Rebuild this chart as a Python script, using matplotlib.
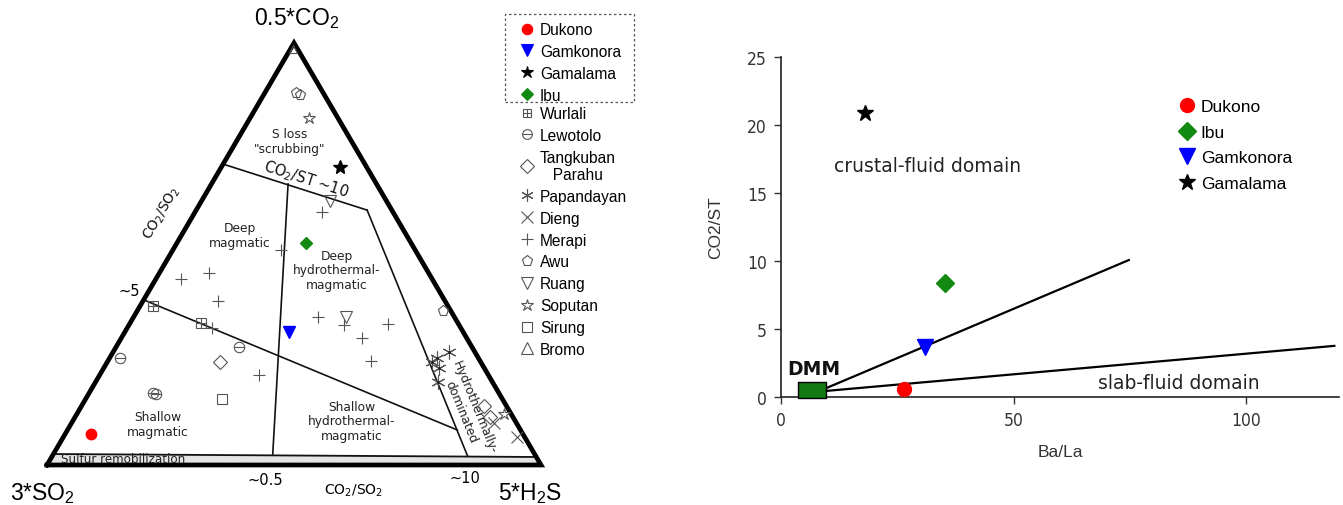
import numpy as np
import matplotlib
matplotlib.use("Agg")
import matplotlib.pyplot as plt
from matplotlib.lines import Line2D
from matplotlib.legend_handler import HandlerTuple
from matplotlib.patches import Polygon, Rectangle

plt.rcParams['mathtext.default'] = 'regular'
plt.rcParams['font.family'] = ['Liberation Sans', 'DejaVu Sans']

# ---------------- Ternary data (fractions of 0.5*CO2, 3*SO2, 5*H2S) ----------------
dukono_co2 = [0.073]; dukono_so2 = [0.875]; dukono_h2s = [0.052]
gamkonora_co2 = [0.315]; gamkonora_so2 = [0.353]; gamkonora_h2s = [0.332]
gamalama_co2 = [0.706]; gamalama_so2 = [0.054]; gamalama_h2s = [0.240]
ibu_co2 = [0.526]; ibu_so2 = [0.213]; ibu_h2s = [0.261]

wurlali_co2 = [0.377, 0.336]
wurlali_so2 = [0.596, 0.520]
wurlali_h2s = [0.027, 0.144]

lewotolo_co2 = [0.254, 0.280, 0.171, 0.168]
lewotolo_so2 = [0.725, 0.471, 0.700, 0.695]
lewotolo_h2s = [0.021, 0.249, 0.129, 0.137]

tangkuban_co2 = [0.244, 0.140, 0.114]
tangkuban_so2 = [0.528, 0.045, 0.046]
tangkuban_h2s = [0.228, 0.815, 0.840]

papandayan_co2 = [0.268, 0.254, 0.244, 0.230, 0.197]
papandayan_so2 = [0.052, 0.084, 0.099, 0.091, 0.110]
papandayan_h2s = [0.680, 0.662, 0.657, 0.679, 0.693]

dieng_co2 = [0.100, 0.066]
dieng_so2 = [0.045, 0.016]
dieng_h2s = [0.855, 0.918]

merapi_co2 = [0.600, 0.509, 0.441, 0.455, 0.389, 0.325, 0.351, 0.332, 0.334, 0.301, 0.246, 0.213]
merapi_so2 = [0.143, 0.272, 0.508, 0.444, 0.459, 0.503, 0.275, 0.233, 0.143, 0.211, 0.221, 0.465]
merapi_h2s = [0.257, 0.219, 0.051, 0.101, 0.152, 0.172, 0.374, 0.435, 0.523, 0.488, 0.533, 0.322]

awu_co2 = [0.882, 0.877, 0.365]
awu_so2 = [0.055, 0.049, 0.015]
awu_h2s = [0.063, 0.074, 0.620]

ruang_co2 = [0.626, 0.351]
ruang_so2 = [0.114, 0.219]
ruang_h2s = [0.260, 0.430]

soputan_co2 = [0.822, 0.121]
soputan_so2 = [0.059, 0.014]
soputan_h2s = [0.119, 0.865]

sirung_co2 = [0.156]; sirung_so2 = [0.568]; sirung_h2s = [0.276]
bromo_co2 = [0.985]; bromo_so2 = [0.009]; bromo_h2s = [0.006]

# Field boundaries (ternary: co2, so2, h2s)
co2st10_line = [(0.713, 0.287, 0.000), (0.604, 0.050, 0.346)]
hydro_line = [(0.604, 0.050, 0.346), (0.021, 0.138, 0.841)]
half_line = [(0.666, 0.179, 0.155), (0.026, 0.530, 0.444)]
five_line = [(0.389, 0.605, 0.006), (0.083, 0.128, 0.789)]
sulfur_band = [(0.0, 1.0, 0.0), (0.0, 0.0, 1.0), (0.019, 0.0, 0.981), (0.026, 0.974, 0.0)]

# ---------------- Right panel data ----------------
volcanoes = ['Dukono', 'Ibu', 'Gamkonora', 'Gamalama']
ba_la = [26.4, 35.2, 31.0, 18.1]
co2_st = [0.6, 8.4, 3.65, 20.9]
dmm_ba_la = [6.6]
dmm_co2_st = [0.5]
mix1_x = [9.5, 74.8]; mix1_y = [0.62, 10.07]
mix2_x = [9.5, 119.0]; mix2_y = [0.44, 3.76]
x_ticks = [0, 50, 100]
y_ticks = [0, 5, 10, 15, 20, 25]

W, H = 1343, 506
fig = plt.figure(figsize=(W / 100, H / 100), dpi=100)

# ---------------- Ternary panel ----------------
S3 = np.sqrt(3) / 2
def tern(co2, so2, h2s):
    co2 = np.asarray(co2, float); so2 = np.asarray(so2, float); h2s = np.asarray(h2s, float)
    t = co2 + so2 + h2s
    c, h = co2 / t, h2s / t
    return h + c / 2, c * S3

ax = fig.add_axes([0, 0, 700 / W, 1])
ax.set_xlim((0 - 47) / 494, (700 - 47) / 494)
ax.set_ylim((466 - 506) / 487.3, (466 - 0) / 487.3)
ax.axis('off')

def P(px, py):
    return ((px - 47) / 494, (466 - py) / 487.3)

def seg(pts):
    xs, ys = tern([p[0] for p in pts], [p[1] for p in pts], [p[2] for p in pts])
    return xs, ys

# sulfur remobilization band
bx, by = seg(sulfur_band)
ax.add_patch(Polygon(np.column_stack([bx, by]), closed=True, facecolor='#e4e4e4',
                     edgecolor='none', zorder=1))
ax.plot(bx[2:], by[2:], color='#111', lw=1.3, zorder=2)

for line in (co2st10_line, hydro_line, half_line, five_line):
    xs, ys = seg(line)
    ax.plot(xs, ys, color='#111', lw=1.2, zorder=2)

# outer triangle
tx, ty = tern([0, 0, 1, 0], [1, 0, 0, 1], [0, 1, 0, 0])
ax.plot(tx, ty, color='black', lw=3.4, solid_joinstyle='miter', zorder=3)

grey = '#555555'
def op(marker, ms, **kw):
    d = dict(marker=marker, linestyle='none', markersize=ms, markerfacecolor='none',
             markeredgecolor=grey, markeredgewidth=0.8)
    d.update(kw)
    return d

def pl(co2, so2, h2s, **kw):
    x, y = tern(co2, so2, h2s)
    ax.plot(x, y, zorder=4, **kw)

pl(wurlali_co2, wurlali_so2, wurlali_h2s, **op('s', 6.5))
pl(wurlali_co2, wurlali_so2, wurlali_h2s, **op('+', 6.5))
pl(lewotolo_co2, lewotolo_so2, lewotolo_h2s, **op('o', 7.5))
pl(lewotolo_co2, lewotolo_so2, lewotolo_h2s, **op('_', 7.5))
pl(tangkuban_co2, tangkuban_so2, tangkuban_h2s, **op('D', 7))
pl(papandayan_co2, papandayan_so2, papandayan_h2s, **op((6, 2, 0), 10))
pl(papandayan_co2, papandayan_so2, papandayan_h2s, **op('.', 2.5, markerfacecolor='#222', markeredgecolor='#222'))
pl(dieng_co2, dieng_so2, dieng_h2s, **op('x', 9))
pl(merapi_co2, merapi_so2, merapi_h2s, **op('+', 9))
pl(awu_co2, awu_so2, awu_h2s, **op('p', 8))
pl(ruang_co2, ruang_so2, ruang_h2s, **op('v', 8.5))
pl(soputan_co2, soputan_so2, soputan_h2s, **op('*', 9))
pl(sirung_co2, sirung_so2, sirung_h2s, **op('s', 7))
pl(bromo_co2, bromo_so2, bromo_h2s, **op('^', 6))

pl(dukono_co2, dukono_so2, dukono_h2s, marker='o', linestyle='none', ms=7.5, color='#ff0000', mec='#ff0000')
pl(gamkonora_co2, gamkonora_so2, gamkonora_h2s, marker='v', linestyle='none', ms=8, color='#0000ff')
pl(gamalama_co2, gamalama_so2, gamalama_h2s, marker='*', linestyle='none', ms=10, color='black')
pl(ibu_co2, ibu_so2, ibu_h2s, marker='D', linestyle='none', ms=6.5, color='#128a12')

def disp_angle(p1, p2):
    a = ax.transData.transform([p1, p2])
    return np.degrees(np.arctan2(a[1, 1] - a[0, 1], a[1, 0] - a[0, 0]))

dv = dict(family='DejaVu Sans', ha='center', va='center', color='#222', fontsize=8.8, linespacing=1.15)
ax.text(*P(290, 142), 'S loss\n"scrubbing"', **dv)
ax.text(*P(240, 236), 'Deep\nmagmatic', **dv)
ax.text(*P(337, 271), 'Deep\nhydrothermal-\nmagmatic', **dv)
ax.text(*P(158, 425), 'Shallow\nmagmatic', **dv)
ax.text(*P(352, 422), 'Shallow\nhydrothermal-\nmagmatic', **dv)
ax.text(*P(61, 460), 'Sulfur remobilization', family='DejaVu Sans', ha='left', va='center',
        color='#222', fontsize=8.6, zorder=5)

xs, ys = seg(co2st10_line)
ang = disp_angle((xs[0], ys[0]), (xs[1], ys[1]))
ax.text(*P(306, 180), 'CO$_2$/ST ~10', family='DejaVu Sans', fontsize=10.5, rotation=ang,
        rotation_mode='anchor', ha='center', va='center', color='#111')
xs, ys = seg(hydro_line)
ang = disp_angle((xs[0], ys[0]), (xs[1], ys[1]))
ax.text(*P(468, 410), 'Hydrothermally-\ndominated', family='DejaVu Sans', fontsize=8.8,
        rotation=ang, rotation_mode='anchor', ha='center', va='center', color='#222',
        linespacing=1.1)
ang = disp_angle((0, 0), (0.5, S3))
ax.text(*P(162, 213), 'CO$_2$/SO$_2$', family='DejaVu Sans', fontsize=10, rotation=ang,
        rotation_mode='anchor', ha='center', va='center', color='#111')
ax.text(*P(129, 292), '~5', fontsize=10.5, ha='center', va='center', family='DejaVu Sans')
ax.text(*P(265, 481), '~0.5', fontsize=10.5, ha='center', va='center', family='DejaVu Sans')
ax.text(*P(465, 479), '~10', fontsize=10.5, ha='center', va='center', family='DejaVu Sans')
ax.text(*P(354, 491), 'CO$_2$/SO$_2$', fontsize=10, ha='center', va='center', family='DejaVu Sans')
ax.text(*P(297, 19), '0.5*CO$_2$', fontsize=16.5, ha='center', va='center')
ax.text(*P(42, 494), '3*SO$_2$', fontsize=16.5, ha='center', va='center')
ax.text(*P(530, 494), '5*H$_2$S', fontsize=16.5, ha='center', va='center')

# legends for ternary panel
def lh(marker, ms, **kw):
    d = dict(marker=marker, linestyle='none', markersize=ms, markerfacecolor='none',
             markeredgecolor=grey, markeredgewidth=0.8)
    d.update(kw)
    return Line2D([], [], **d)

h1 = [lh('o', 7.5, markerfacecolor='#ff0000', markeredgecolor='#ff0000'),
      lh('v', 8, markerfacecolor='#0000ff', markeredgecolor='#0000ff'),
      lh('*', 9, markerfacecolor='black', markeredgecolor='black'),
      lh('D', 6.5, markerfacecolor='#128a12', markeredgecolor='#128a12')]
l1 = ['Dukono', 'Gamkonora', 'Gamalama', 'Ibu']
leg_kw = dict(loc='upper left', fontsize=11.2, frameon=False, handlelength=1.0,
              handletextpad=0.35, borderpad=0, borderaxespad=0)
fig.legend(h1, l1, bbox_to_anchor=(519 / W, 1 - 23 / H), labelspacing=0.44, **leg_kw)
fig.add_artist(Rectangle((505 / W, 1 - 103 / H), 129 / W, 88 / H, transform=fig.transFigure,
                         fill=False, edgecolor='#555', lw=0.9, linestyle=(0, (2, 2))))

h2 = [(lh('s', 6), lh('+', 6)), (lh('o', 7), lh('_', 7)), lh('D', 7), lh((6, 2, 0), 9),
      lh('x', 9), lh('+', 9), lh('p', 8), lh('v', 8.5), lh('*', 9), lh('s', 7), lh('^', 8)]
l2 = ['Wurlali', 'Lewotolo', 'Tangkuban\n   Parahu', 'Papandayan', 'Dieng', 'Merapi', 'Awu',
      'Ruang', 'Soputan', 'Sirung', 'Bromo']
fig.legend(h2, l2, bbox_to_anchor=(519 / W, 1 - 107 / H), labelspacing=0.44,
           handler_map={tuple: HandlerTuple(ndivide=1, pad=0)}, **leg_kw)

# ---------------- Right panel ----------------
ax2 = fig.add_axes([781 / W, (506 - 398) / H, (1339 - 781) / W, 340 / H])
ax2.set_xlim(0, 120)
ax2.set_ylim(0, 25)
for s in ('top', 'right'):
    ax2.spines[s].set_visible(False)
for s in ('left', 'bottom'):
    ax2.spines[s].set_linewidth(1.2)
    ax2.spines[s].set_color('#222')
ax2.set_xticks(x_ticks)
ax2.set_yticks(y_ticks)
ax2.tick_params(direction='out', length=5, width=1, colors='#333', labelsize=12.5, pad=5)
for lab in ax2.get_xticklabels() + ax2.get_yticklabels():
    lab.set_family('DejaVu Sans')
    lab.set_fontstretch('condensed')

ax2.plot(mix1_x, mix1_y, color='black', lw=1.6, zorder=2)
ax2.plot(mix2_x, mix2_y, color='black', lw=1.6, zorder=2)
rect_marker = [(-1, -0.6), (1, -0.6), (1, 0.6), (-1, 0.6), (-1, -0.6)]
ax2.plot(dmm_ba_la, dmm_co2_st, marker=rect_marker, ms=20, color='#127a12', mec='black',
         mew=1.0, linestyle='none', clip_on=False, zorder=3)

styles = {'Dukono': dict(marker='o', color='#ff0000', ms=10),
          'Ibu': dict(marker='D', color='#128a12', ms=9),
          'Gamkonora': dict(marker='v', color='#0000ff', ms=11),
          'Gamalama': dict(marker='*', color='black', ms=12)}
handles = []
for name, bx_, by_ in zip(volcanoes, ba_la, co2_st):
    st = styles[name]
    hdl, = ax2.plot([bx_], [by_], linestyle='none', marker=st['marker'], ms=st['ms'],
                    color=st['color'], zorder=4, label=name)
    handles.append(hdl)
ax2.legend(handles=handles, loc='upper left', bbox_to_anchor=(1180 / W, 1 - 100 / H),
           bbox_transform=fig.transFigure, frameon=False, fontsize=12.5, handlelength=0.8,
           handletextpad=0.4, labelspacing=0.6, borderpad=0, borderaxespad=0)

ax2.text(31.5, 17.0, 'crustal-fluid domain', family='DejaVu Sans', fontsize=13.5,
         ha='center', va='center', color='#222')
ax2.text(85.5, 1.1, 'slab-fluid domain', family='DejaVu Sans', fontsize=13.5,
         ha='center', va='center', color='#222')
ax2.text(7.1, 2.1, 'DMM', family='DejaVu Sans', fontsize=13.5, fontweight='bold',
         ha='center', va='center', color='#111')
ax2.set_xlabel('Ba/La', fontsize=12.5, color='#333', labelpad=11)
ax2.set_ylabel('CO2/ST', fontsize=12.5, color='#333', labelpad=17)

fig.savefig('out.png', dpi=100)
